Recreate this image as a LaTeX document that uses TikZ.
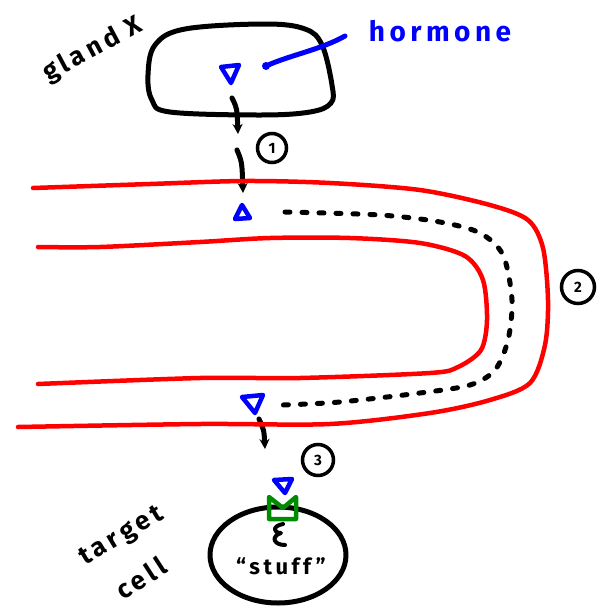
\documentclass[tikz,border=0pt]{standalone}
\usepackage{fontspec}
\setmainfont{Fira Sans}
\newfontfamily\handfont[LetterSpace=16]{Fira Sans}
\usetikzlibrary{arrows.meta}
\definecolor{hblue}{RGB}{0,0,255}
\definecolor{hred}{RGB}{255,0,0}
\definecolor{hgreen}{RGB}{0,140,0}
\tikzset{
  ink/.style={line width=5pt, line cap=round, line join=round},
  blk/.style={ink, black},
  redline/.style={line width=4.5pt, line cap=round, line join=round, hred},
  tri/.style={line width=4.5pt, line join=round, hblue},
  num/.style={circle, draw, line width=3.5pt, minimum size=29pt, inner sep=0pt, font=\bfseries\fontsize{15}{15}\selectfont},
  arr/.style={blk, -{Stealth[length=10pt,width=10pt]}},
  hand/.style={font=\handfont\bfseries\fontsize{26}{26}\selectfont},
}
\begin{document}
\begin{tikzpicture}[x=1pt,y=-1pt]
\useasboundingbox (0,0) rectangle (605,614);
\fill[white] (0,0) rectangle (605,614);

% gland
\draw[blk] plot[smooth cycle, tension=0.6] coordinates {(185,29) (265,24) (305,29) (322,45) (332,85) (331,103) (310,112) (260,115) (170,112) (152,100) (148,75) (155,45)};
\node[hand, rotate=28] (gland) at (93,50) {gland X};

% hormone label and pointer
\node[hand, hblue, font=\handfont\bfseries\fontsize{28}{28}\selectfont] (hormone) at (440,31) {hormone};
\coordinate (hp) at (266,66);
\coordinate (hs) at (345,36);
\draw[hblue, line width=5pt, line cap=round] (hs) .. controls (320,50) and (290,55) .. (hp);
\fill[hblue] (hp) circle (4pt);

% triangles
\draw[tri] (221,67) -- (239,65) -- (231,83) -- cycle;
\draw[tri] (242,205) -- (235,219) -- (250,218) -- cycle;
\draw[tri] (242,397) -- (263,395) -- (255,413) -- cycle;
\coordinate (t3) at (259,419);
\draw[tri] (274,480) -- (292,479) -- (285,493) -- cycle;

% arrows
\coordinate (a1s) at (232,98);
\coordinate (a1e) at (238,134);
\draw[arr] (a1s) .. controls (237,108) .. (a1e);
\coordinate (a2s) at (237,150);
\coordinate (a2e) at (243,193);
\draw[arr] (a2s) .. controls (242,162) .. (a2e);
\coordinate (a3e) at (265,449);
\draw[arr] (t3) .. controls (264,430) .. (a3e);

% numbers
\node[num] (n1) at (272,148) {1};
\node[num, minimum size=33pt] (n2) at (578,287) {2};
\node[num, minimum size=31pt] (n3) at (318,460) {3};

% blood vessel
\draw[redline] plot[smooth, tension=0.5] coordinates {(33,188) (150,184) (245,181) (330,183) (420,190) (490,205) (528,220) (543,248) (548,300) (545,345) (530,383) (490,400) (430,413) (330,424) (200,424) (18,427)};
\draw[redline] plot[smooth, tension=0.5] coordinates {(38,247) (100,247) (200,242) (270,238) (350,238) (420,243) (465,256) (483,280) (487,320) (481,350) (458,367) (430,373) (300,378) (200,378) (38,384)};

% travel path (dotted)
\draw[blk, line width=5pt, dash pattern=on 5pt off 12pt] plot[smooth, tension=0.5] coordinates {(285,212) (380,215) (440,222) (480,233) (503,255) (512,300) (508,340) (495,370) (470,385) (420,393) (340,402) (283,405)};

% target cell
\draw[blk] (278,555) ellipse (68pt and 48pt);
\node[hand, rotate=31] (target) at (122,537) {target};
\node[hand, rotate=33] (cell) at (141,578) {cell};

% receptor
\draw[hgreen, line width=4.5pt, line join=round] (269,519) -- (269,497) -- (283,508) -- (296,497) -- (296,519) -- cycle;

% inside
\draw[blk, line width=4pt] (283,524) .. controls (272,526) and (273,533) .. (281,533) .. controls (271,536) and (273,545) .. (285,545);
\node[font=\handfont\bfseries\fontsize{22}{22}\selectfont] (stuff) at (281,566) {“stuff”};
\end{tikzpicture}
\end{document}
